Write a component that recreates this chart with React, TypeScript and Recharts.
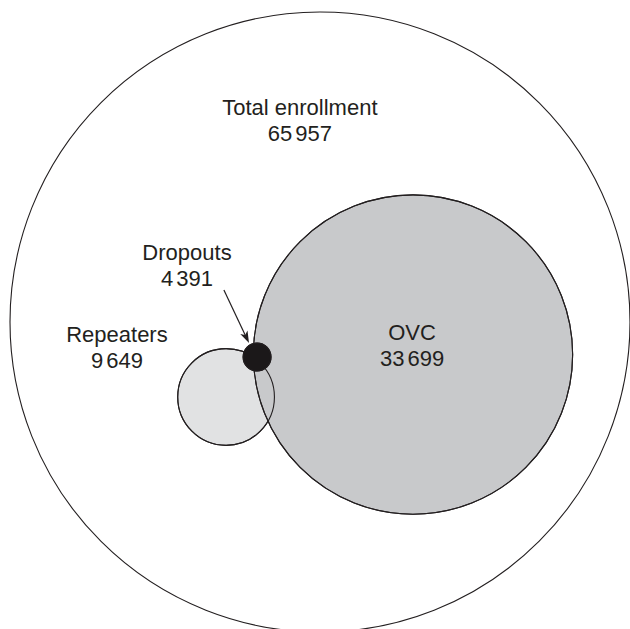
import { ScatterChart, Scatter, XAxis, YAxis } from "recharts";

// groups and counts
const groups = ["Total enrollment", "Repeaters", "OVC", "Dropouts"];
const counts = [65957, 9649, 33699, 4391];

// diagram layout, in units of the outer circle radius (centre of outer circle = 0,0)
const circleX = [0, -0.303, 0.3, -0.203];
const circleY = [0, -0.242, -0.105, -0.113];
const circleR = [1, 0.156, 0.515, 0.045];
const labelX = [-0.065, -0.655, 0.297, -0.429];
const labelY = [0.694, -0.039, -0.032, 0.226];
const arrowFrom = { x: -0.31, y: 0.103 };
const arrowTo = { x: -0.229, y: -0.068 };

const W = 630;
const H = 629;
const X_DOMAIN: [number, number] = [-320 / 310, 310 / 310];
const Y_DOMAIN: [number, number] = [-307 / 310, 322 / 310];
const PX = W / (X_DOMAIN[1] - X_DOMAIN[0]);

const INK = "#231f20";
const FONT = "'Liberation Sans', Arial, sans-serif";
const FILLS: Record<string, string> = {
  "Total enrollment": "#ffffff",
  Repeaters: "#e1e2e3",
  OVC: "#c8c9cb",
  Dropouts: "#1b1819",
};

// thousands groups, drawn with a narrow gap between them
const groupsOf = (n: number) => String(n).replace(/\B(?=(\d{3})+(?!\d))/g, " ").split(" ");

const circles = groups.map((name, i) => ({
  name,
  value: counts[i],
  x: circleX[i],
  y: circleY[i],
  r: circleR[i],
}));
const outlines = circles.filter((c) => c.name === "Repeaters" || c.name === "OVC");
const dropouts = circles.filter((c) => c.name === "Dropouts");
const labels = groups.map((name, i) => ({ name, value: counts[i], x: labelX[i], y: labelY[i] }));
const arrow = [{ x: arrowTo.x, y: arrowTo.y }];

const FillCircle = (props: any) => {
  const { cx, cy, payload } = props;
  return (
    <circle
      cx={cx}
      cy={cy}
      r={payload.r * PX}
      fill={FILLS[payload.name]}
      stroke={INK}
      strokeWidth={1.1}
    />
  );
};

const OutlineCircle = (props: any) => {
  const { cx, cy, payload } = props;
  return <circle cx={cx} cy={cy} r={payload.r * PX} fill="none" stroke={INK} strokeWidth={1.1} />;
};

const Label = (props: any) => {
  const { cx, cy, payload } = props;
  const parts = groupsOf(payload.value);
  return (
    <g fill={INK} fontSize={22} fontFamily={FONT}>
      <text x={cx} y={cy} dy="0.35em" textAnchor="middle">
        {payload.name}
      </text>
      <text x={cx} y={cy + 26} dy="0.35em" textAnchor="middle">
        {parts.map((p: string, i: number) => (
          <tspan key={i} dx={i === 0 ? 0 : 3}>
            {p}
          </tspan>
        ))}
      </text>
    </g>
  );
};

// arrow from the Dropouts label to the dot; point sits at the tip
const Arrow = (props: any) => {
  const { cx, cy } = props;
  const x1 = cx + (arrowFrom.x - arrowTo.x) * PX;
  const y1 = cy - (arrowFrom.y - arrowTo.y) * PX;
  const a = Math.atan2(cy - y1, cx - x1);
  const len = 12;
  const half = 4;
  const bx = cx - len * Math.cos(a);
  const by = cy - len * Math.sin(a);
  const nx = -Math.sin(a);
  const ny = Math.cos(a);
  const mx = cx - (len - 3) * Math.cos(a);
  const my = cy - (len - 3) * Math.sin(a);
  return (
    <g>
      <line x1={x1} y1={y1} x2={mx} y2={my} stroke={INK} strokeWidth={1.2} />
      <polygon
        points={`${cx},${cy} ${bx + nx * half},${by + ny * half} ${mx},${my} ${bx - nx * half},${by - ny * half}`}
        fill={INK}
      />
    </g>
  );
};

export default function App() {
  return (
    <div style={{ position: "absolute", left: 0, top: 0, width: W, height: H, background: "#fff" }}>
      <ScatterChart width={W} height={H} margin={{ top: 0, right: 0, bottom: 0, left: 0 }}>
        <XAxis type="number" dataKey="x" domain={X_DOMAIN} hide allowDataOverflow />
        <YAxis type="number" dataKey="y" domain={Y_DOMAIN} hide allowDataOverflow />
        <Scatter data={circles} shape={<FillCircle />} isAnimationActive={false} />
        <Scatter data={outlines} shape={<OutlineCircle />} isAnimationActive={false} />
        <Scatter data={dropouts} shape={<FillCircle />} isAnimationActive={false} />
        <Scatter data={arrow} shape={<Arrow />} isAnimationActive={false} />
        <Scatter data={labels} shape={<Label />} isAnimationActive={false} />
      </ScatterChart>
    </div>
  );
}
